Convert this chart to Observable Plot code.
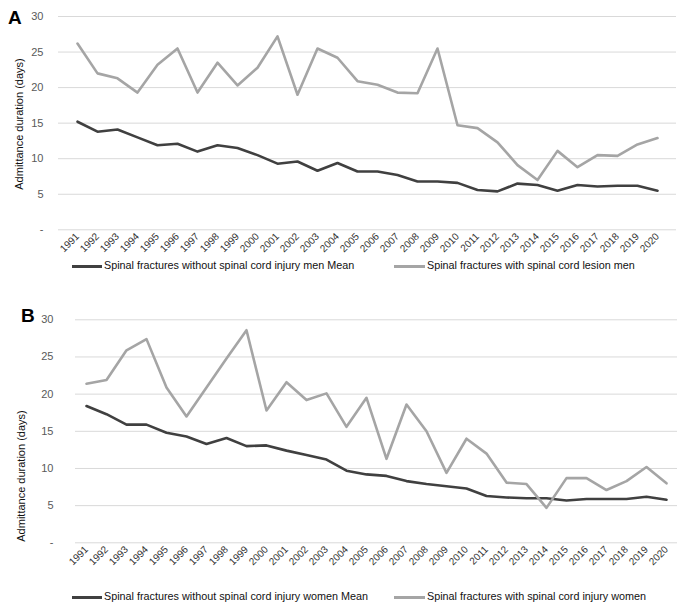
<!DOCTYPE html>
<html><head><meta charset="utf-8">
<script src="https://cdn.jsdelivr.net/npm/d3@7"></script>
<script src="https://cdn.jsdelivr.net/npm/@observablehq/plot@0.6"></script>
<style>
body{margin:0;background:#fff;font-family:"Liberation Sans",Arial,sans-serif}
#root{position:relative;width:685px;height:610px;overflow:hidden;background:#fff}
.panel{position:absolute;left:0}
.letter{position:absolute;font-weight:bold;font-size:19px;line-height:1;color:#000}
.ytitle{position:absolute;font-size:11px;color:#111;white-space:nowrap;transform:translate(-50%,-50%) rotate(-90deg);line-height:1}
.legend{position:absolute;font-size:10.8px;color:#111;white-space:nowrap;line-height:1}
.sw{position:absolute;height:3px}
</style></head><body><div id="root"></div>
<script>
const years = [1991,1992,1993,1994,1995,1996,1997,1998,1999,2000,2001,2002,2003,2004,2005,2006,2007,2008,2009,2010,2011,2012,2013,2014,2015,2016,2017,2018,2019,2020];
const menWithout = [15.2,13.8,14.1,13.0,11.9,12.1,11.0,11.9,11.5,10.5,9.3,9.6,8.3,9.4,8.2,8.2,7.7,6.8,6.8,6.6,5.6,5.4,6.5,6.3,5.5,6.3,6.1,6.2,6.2,5.5];
const menWith = [26.2,22.0,21.3,19.3,23.2,25.5,19.3,23.5,20.3,22.8,27.2,19.0,25.5,24.2,20.9,20.4,19.3,19.2,25.5,14.7,14.3,12.3,9.1,7.0,11.1,8.8,10.5,10.4,12.0,12.9];
const womenWithout = [18.4,17.3,15.9,15.9,14.8,14.3,13.3,14.1,13.0,13.1,12.4,11.8,11.2,9.7,9.2,9.0,8.3,7.9,7.6,7.3,6.3,6.1,6.0,6.0,5.7,5.9,5.9,5.9,6.2,5.8];
const womenWith = [21.4,21.9,25.9,27.4,20.9,17.0,20.9,24.8,28.6,17.8,21.6,19.2,20.1,15.6,19.5,11.3,18.6,15.0,9.4,14.0,12.0,8.1,7.9,4.7,8.7,8.7,7.1,8.3,10.2,8.0];
const yTicks = [0,5,10,15,20,25,30];
const yTitle = "Admittance duration (days)";
const namesA = ["Spinal fractures without spinal cord injury men Mean","Spinal fractures with spinal cord lesion men"];
const namesB = ["Spinal fractures without spinal cord injury women Mean","Spinal fractures with spinal cord injury women"];
const colors = ["#404040","#a5a5a5"];

const root = document.getElementById("root");

function panel({top, height, mt, mb, ml, mr, pad, series, letter, letterX, letterY, titleX, titleY, names, legendY}) {
  const tbl = s => years.map((y,i)=>({year:y, value:s[i]}));
  const chart = Plot.plot({
    width: 685, height, marginTop: mt, marginBottom: mb, marginLeft: ml, marginRight: mr,
    style: {background:"transparent", fontFamily:"'Liberation Sans', Arial, sans-serif"},
    x: {type:"point", domain: years, padding: 0.5, axis: null},
    y: {domain: [0,30], axis: null},
    marks: [
      Plot.ruleY(yTicks, {stroke:"#d9d9d9", strokeWidth:1}),
      Plot.axisY(yTicks, {tickSize:0, tickPadding:pad, tickFormat: d => d === 0 ? "-" : String(d), fill:"#595959", fontSize:11, label:null}),
      Plot.axisX(years, {tickSize:0, tickRotate:-45, tickPadding:5, fill:"#333333", fontSize:10, label:null, tickFormat: d => String(d)}),
      Plot.lineY(tbl(series[0]), {x:"year", y:"value", stroke:colors[0], strokeWidth:2.6}),
      Plot.lineY(tbl(series[1]), {x:"year", y:"value", stroke:colors[1], strokeWidth:2.6})
    ]
  });
  chart.classList.add("panel");
  chart.style.top = top + "px";
  root.appendChild(chart);
  const L = document.createElement("div");
  L.className = "letter"; L.textContent = letter;
  L.style.left = letterX + "px"; L.style.top = letterY + "px";
  root.appendChild(L);
  const T = document.createElement("div");
  T.className = "ytitle"; T.textContent = yTitle;
  T.style.left = titleX + "px"; T.style.top = titleY + "px";
  root.appendChild(T);
  const swX = [72, 394], txX = [104, 427];
  names.forEach((n,i)=>{
    const s = document.createElement("div");
    s.className = "sw"; s.style.background = colors[i];
    s.style.left = swX[i]+"px"; s.style.width = (txX[i]-swX[i]-2)+"px"; s.style.top = (legendY-1.5)+"px";
    root.appendChild(s);
    const t = document.createElement("div");
    t.className = "legend"; t.textContent = n;
    t.style.left = txX[i]+"px"; t.style.top = (legendY-6)+"px";
    root.appendChild(t);
  });
}

panel({top:0, height:262, mt:16, mb:32.7, ml:58, mr:9, pad:15, series:[menWithout, menWith],
  letter:"A", letterX:8, letterY:8, titleX:19, titleY:124, names:namesA, legendY:266});
panel({top:300, height:270, mt:19.3, mb:27.7, ml:75, mr:8, pad:22, series:[womenWithout, womenWith],
  letter:"B", letterX:21, letterY:306, titleX:21, titleY:476, names:namesB, legendY:597});
</script></body></html>
